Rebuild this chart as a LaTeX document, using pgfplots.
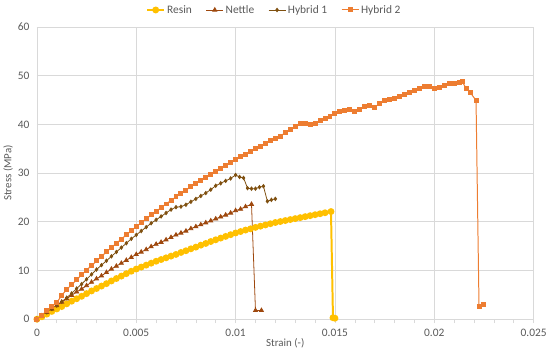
\documentclass[border=0pt]{standalone}
\usepackage{fontspec}
\setmainfont{Carlito}
\usepackage{pgfplots}
\pgfplotsset{compat=1.18}
\usetikzlibrary{calc}
\definecolor{resin}{HTML}{FFC000}
\definecolor{nettle}{HTML}{9E480E}
\definecolor{hybone}{HTML}{7F5010}
\definecolor{hybtwo}{HTML}{ED7D31}
\definecolor{gridgray}{HTML}{D9D9D9}
\definecolor{txtgray}{HTML}{595959}
\begin{document}
\begin{tikzpicture}
\begin{axis}[
  scale only axis, width=498bp, height=293bp,
  xmin=0, xmax=0.025, ymin=0, ymax=60,
  xtick={0,0.005,0.01,0.015,0.02,0.025},
  xticklabels={0,0.005,0.01,0.015,0.02,0.025},
  minor xtick={0.001,0.002,0.003,0.004,0.006,0.007,0.008,0.009,0.011,0.012,0.013,0.014,0.016,0.017,0.018,0.019,0.021,0.022,0.023,0.024},
  ytick={0,10,20,30,40,50,60},
  /pgf/number format/assume math mode=true,
  scaled x ticks=false,
  grid=major,
  major grid style={draw=gridgray, line width=0.6pt},
  axis x line*=bottom, axis y line*=left,
  x axis line style={draw=gridgray, line width=0.6pt, -},
  y axis line style={draw=none},
  tick align=outside,
  x tick style={draw=gridgray, line width=0.6pt},
  major tick length=4bp, minor tick length=4bp,
  y tick style={draw=none},
  tick label style={font=\fontsize{11.5}{13}\selectfont, text=txtgray},
  xticklabel style={yshift=-2bp},
  yticklabel style={xshift=0bp},
  xlabel={Strain (-)}, ylabel={Stress (MPa)},
  label style={font=\fontsize{11}{13}\selectfont, text=txtgray},
  xlabel style={yshift=5bp},
  ylabel style={yshift=-2bp},
  legend columns=4,
  legend style={at={(0.5,1)}, anchor=center, yshift=17bp, xshift=-11bp, draw=none, fill=none,
    font=\fontsize{11.5}{13}\selectfont, text=txtgray, /tikz/every even column/.append style={column sep=12bp}},
  legend cell align=left,
]
\addplot[color=resin, line width=2pt, mark=*, mark size=2.4bp] coordinates {
(0,0) (0.00025,0.5) (0.0005,1.05) (0.00075,1.6) (0.001,2.1) (0.00125,2.6) (0.0015,3.15) (0.00175,3.7)
(0.002,4.2) (0.00225,4.7) (0.0025,5.25) (0.00275,5.8) (0.003,6.3) (0.00325,6.8) (0.0035,7.3) (0.00375,7.85)
(0.004,8.35) (0.00425,8.85) (0.0045,9.35) (0.00475,9.85) (0.005,10.3) (0.00525,10.7) (0.0055,11.1) (0.00575,11.5)
(0.006,11.9) (0.00625,12.25) (0.0065,12.6) (0.00675,12.95) (0.007,13.3) (0.00725,13.7) (0.0075,14.05) (0.00775,14.45)
(0.008,14.8) (0.00825,15.2) (0.0085,15.55) (0.00875,15.95) (0.009,16.3) (0.00925,16.65) (0.0095,17.0) (0.00975,17.35)
(0.01,17.7) (0.01025,18.0) (0.0105,18.3) (0.01075,18.55) (0.011,18.85) (0.01125,19.1) (0.0115,19.35) (0.01175,19.6)
(0.012,19.85) (0.01225,20.05) (0.0125,20.25) (0.01275,20.45) (0.013,20.65) (0.01325,20.85) (0.0135,21.05) (0.01375,21.25)
(0.014,21.45) (0.01425,21.65) (0.0145,21.85) (0.0148,22.1) (0.0149,0.3) (0.015,0.2)
};
\addlegendentry{Resin}
\addplot[color=nettle, line width=0.8pt, mark=triangle*, mark size=2.3bp] coordinates {
(0,0) (0.00025,0.7) (0.0005,1.4) (0.00075,2.1) (0.001,2.8) (0.00125,3.5) (0.0015,4.2) (0.00175,4.9)
(0.002,5.6) (0.00225,6.2) (0.0025,6.9) (0.00275,7.6) (0.003,8.3) (0.00325,8.9) (0.0035,9.6) (0.00375,10.3)
(0.004,10.9) (0.00425,11.5) (0.0045,12.1) (0.00475,12.7) (0.005,13.3) (0.00525,13.8) (0.0055,14.3) (0.00575,14.9)
(0.006,15.4) (0.00625,15.8) (0.0065,16.3) (0.00675,16.8) (0.007,17.3) (0.00725,17.7) (0.0075,18.1) (0.00775,18.6)
(0.008,19.0) (0.00825,19.4) (0.0085,19.8) (0.00875,20.2) (0.009,20.6) (0.00925,21.0) (0.0095,21.4) (0.00975,21.8)
(0.01,22.3) (0.01025,22.6) (0.0105,23.1) (0.0108,23.6) (0.011,1.8) (0.0113,1.8)
};
\addlegendentry{Nettle}
\addplot[color=hybone, line width=0.8pt, mark=diamond*, mark size=1.7bp] coordinates {
(0,0) (0.00025,0.7) (0.0005,1.4) (0.00075,2.1) (0.001,2.8) (0.00125,3.6) (0.0015,4.4) (0.00175,5.3)
(0.002,6.3) (0.00225,7.2) (0.0025,8.2) (0.00275,9.2) (0.003,10.2) (0.00325,11.1) (0.0035,12.0) (0.00375,12.9)
(0.004,13.8) (0.00425,14.7) (0.0045,15.6) (0.00475,16.5) (0.005,17.3) (0.00525,18.1) (0.0055,18.9) (0.00575,19.7)
(0.006,20.4) (0.00625,21.1) (0.0065,21.8) (0.00675,22.5) (0.007,23.0) (0.00725,23.1) (0.0075,23.5) (0.00775,24.1)
(0.008,24.7) (0.00825,25.3) (0.0085,25.9) (0.00875,26.6) (0.009,27.4) (0.00925,27.9) (0.0095,28.4) (0.00975,28.9)
(0.01,29.6) (0.0102,29.2) (0.0104,29.0) (0.0106,26.9) (0.0108,26.8) (0.011,26.8) (0.0112,27.1) (0.0114,27.3)
(0.0116,24.2) (0.0118,24.5) (0.012,24.7)
};
\addlegendentry{Hybrid 1}
\addplot[color=hybtwo, line width=1pt, mark=square*, mark size=2bp] coordinates {
(0,0) (0.00025,0.85) (0.0005,1.7) (0.00075,2.55) (0.001,3.4) (0.00125,4.9) (0.0015,6.1) (0.00175,7.1)
(0.002,8.1) (0.00225,9.1) (0.0025,10.1) (0.00275,11.0) (0.003,11.95) (0.00325,12.9) (0.0035,13.8) (0.00375,14.7)
(0.004,15.6) (0.00425,16.45) (0.0045,17.3) (0.00475,18.15) (0.005,19.0) (0.00525,19.8) (0.0055,20.6) (0.00575,21.4)
(0.006,22.15) (0.00625,22.9) (0.0065,23.65) (0.00675,24.4) (0.007,25.1) (0.00725,25.8) (0.0075,26.5) (0.00775,27.2)
(0.008,27.85) (0.00825,28.5) (0.0085,29.15) (0.00875,29.8) (0.009,30.4) (0.00925,31.0) (0.0095,31.6) (0.00975,32.2)
(0.01,32.8) (0.01025,33.35) (0.0105,33.9) (0.01075,34.45) (0.011,35.0) (0.01125,35.55) (0.0115,36.1) (0.01175,36.6)
(0.012,37.1) (0.01225,37.6) (0.0125,38.3) (0.01275,38.9) (0.013,39.5) (0.01325,40.1) (0.0135,40.2) (0.01375,39.9)
(0.014,40.2) (0.01425,40.7) (0.0145,41.2) (0.01475,41.7) (0.015,42.2) (0.01525,42.6) (0.0155,42.9) (0.01575,43.1)
(0.016,42.6) (0.01625,43.0) (0.0165,43.7) (0.01675,43.8) (0.017,43.5) (0.01725,44.3) (0.0175,44.8) (0.01775,45.1)
(0.018,45.4) (0.01825,45.8) (0.0185,46.2) (0.01875,46.6) (0.019,46.9) (0.01925,47.3) (0.0195,47.7) (0.01975,47.8)
(0.02,47.4) (0.02025,47.6) (0.0205,48.0) (0.02075,48.3) (0.021,48.4) (0.02125,48.5) (0.0214,48.8) (0.0216,47.4)
(0.0218,46.6) (0.0221,44.9) (0.02225,2.6) (0.0225,3.0)
};
\addlegendentry{Hybrid 2}
\end{axis}
\path[use as bounding box] ($(current axis.south west)+(-37bp,-39bp)$) rectangle ($(current axis.north east)+(15bp,27bp)$);
\end{tikzpicture}
\end{document}
